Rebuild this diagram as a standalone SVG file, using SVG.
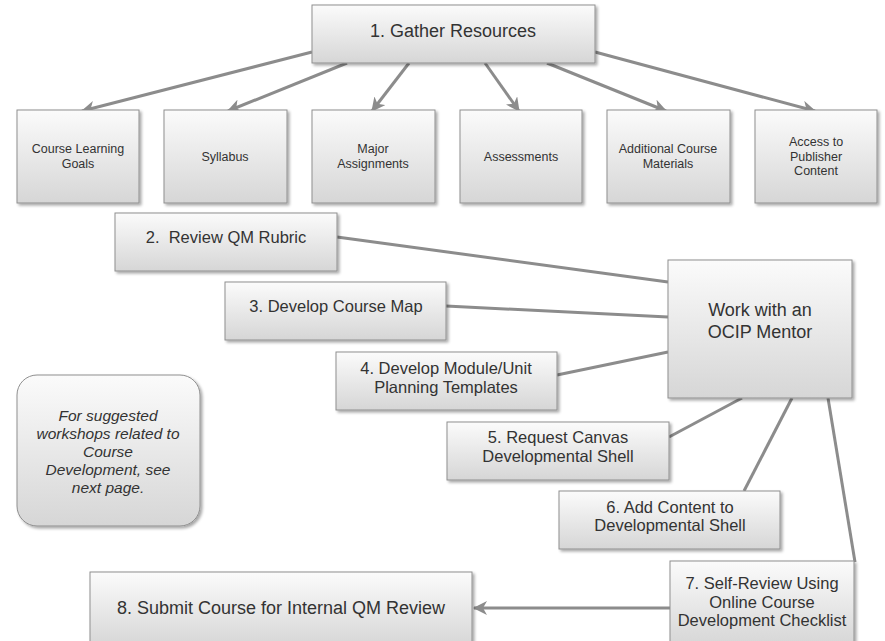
<svg xmlns="http://www.w3.org/2000/svg" width="885" height="641" viewBox="0 0 885 641">
<defs>
<linearGradient id="g" x1="0" y1="0" x2="0" y2="1">
<stop offset="0" stop-color="#fbfbfb"/>
<stop offset="1" stop-color="#d6d6d6"/>
</linearGradient>
<filter id="sh" x="-10%" y="-10%" width="125%" height="125%">
<feGaussianBlur in="SourceAlpha" stdDeviation="1.5"/>
<feOffset dx="1.5" dy="2" result="b"/>
<feComponentTransfer><feFuncA type="linear" slope="0.35"/></feComponentTransfer>
<feMerge><feMergeNode/><feMergeNode in="SourceGraphic"/></feMerge>
</filter>
<marker id="ah" markerUnits="userSpaceOnUse" markerWidth="16" markerHeight="14" refX="13" refY="7" orient="auto">
<path d="M0,0 L14,7 L0,14 L4,7 z" fill="#8c8c8c"/>
</marker>
<style>
.box{fill:url(#g);stroke:#8f8f8f;stroke-width:1;filter:url(#sh)}
.t{font-family:"Liberation Sans",Arial,sans-serif;fill:#333;text-anchor:middle}
.s{font-size:12.5px}
.m{font-size:16.5px}
.l{font-size:18px}
.i{font-style:italic;font-size:15.5px}
.c{stroke:#8c8c8c;stroke-width:3;fill:none}
.a{marker-end:url(#ah)}
</style>
</defs>
<g id="connectors">
<line class="c a" x1="312" y1="52" x2="82" y2="111"/>
<line class="c a" x1="347" y1="63" x2="228" y2="111"/>
<line class="c a" x1="409" y1="63" x2="372" y2="111"/>
<line class="c a" x1="485" y1="63" x2="519" y2="111"/>
<line class="c a" x1="547" y1="63" x2="666" y2="111"/>
<line class="c a" x1="595" y1="52" x2="815" y2="111"/>
<line class="c" x1="337" y1="237" x2="668" y2="282"/>
<line class="c" x1="446" y1="306" x2="668" y2="317"/>
<line class="c" x1="557" y1="375" x2="668" y2="352"/>
<line class="c" x1="669" y1="437" x2="742" y2="398"/>
<line class="c" x1="744" y1="491" x2="792" y2="398"/>
<line class="c" x1="855" y1="562" x2="828" y2="398"/>
<line class="c a" x1="670" y1="608" x2="474" y2="608"/>
</g>
<g id="gather"><rect class="box" x="312" y="5" width="283" height="58"/><text class="t l" x="453" y="37">1. Gather Resources</text></g>
<g id="goals"><rect class="box" x="17" y="110" width="122" height="93"/><text class="t s" x="78" y="153">Course Learning</text><text class="t s" x="78" y="168">Goals</text></g>
<g id="syllabus"><rect class="box" x="164" y="110" width="123" height="93"/><text class="t s" x="225" y="161">Syllabus</text></g>
<g id="major"><rect class="box" x="312" y="110" width="123" height="93"/><text class="t s" x="373" y="153">Major</text><text class="t s" x="373" y="168">Assignments</text></g>
<g id="assess"><rect class="box" x="460" y="110" width="122" height="93"/><text class="t s" x="521" y="161">Assessments</text></g>
<g id="additional"><rect class="box" x="607" y="110" width="123" height="93"/><text class="t s" x="668" y="153">Additional Course</text><text class="t s" x="668" y="168">Materials</text></g>
<g id="access"><rect class="box" x="755" y="110" width="122" height="93"/><text class="t s" x="816" y="146">Access to</text><text class="t s" x="816" y="161">Publisher</text><text class="t s" x="816" y="175">Content</text></g>
<g id="review"><rect class="box" x="115" y="213" width="222" height="58"/><text class="t m" x="226" y="243" xml:space="preserve">2.  Review QM Rubric</text></g>
<g id="map"><rect class="box" x="225" y="282" width="221" height="58"/><text class="t m" x="336" y="312">3. Develop Course Map</text></g>
<g id="module"><rect class="box" x="336" y="352" width="221" height="58"/><text class="t m" x="446" y="374">4. Develop Module/Unit</text><text class="t m" x="446" y="393">Planning Templates</text></g>
<g id="mentor"><rect class="box" x="668" y="260" width="184" height="138"/><text class="t l" x="760" y="316">Work with an</text><text class="t l" x="760" y="338">OCIP Mentor</text></g>
<g id="note"><rect class="box" x="17" y="375" width="183" height="151" rx="20" ry="20"/><text class="t i" x="108" y="421">For suggested</text><text class="t i" x="108" y="439">workshops related to</text><text class="t i" x="108" y="457">Course</text><text class="t i" x="108" y="475">Development, see</text><text class="t i" x="108" y="493">next page.</text></g>
<g id="canvas"><rect class="box" x="447" y="422" width="222" height="58"/><text class="t m" x="558" y="443">5. Request Canvas</text><text class="t m" x="558" y="462">Developmental Shell</text></g>
<g id="content"><rect class="box" x="559" y="491" width="221" height="58"/><text class="t m" x="670" y="513">6. Add Content to</text><text class="t m" x="670" y="531">Developmental Shell</text></g>
<g id="selfreview"><rect class="box" x="670" y="561" width="184" height="85"/><text class="t m" x="762" y="589">7. Self-Review Using</text><text class="t m" x="762" y="608">Online Course</text><text class="t m" x="762" y="626">Development Checklist</text></g>
<g id="submit"><rect class="box" x="90" y="572" width="382" height="75"/><text class="t l" x="281" y="614">8. Submit Course for Internal QM Review</text></g>
</svg>
